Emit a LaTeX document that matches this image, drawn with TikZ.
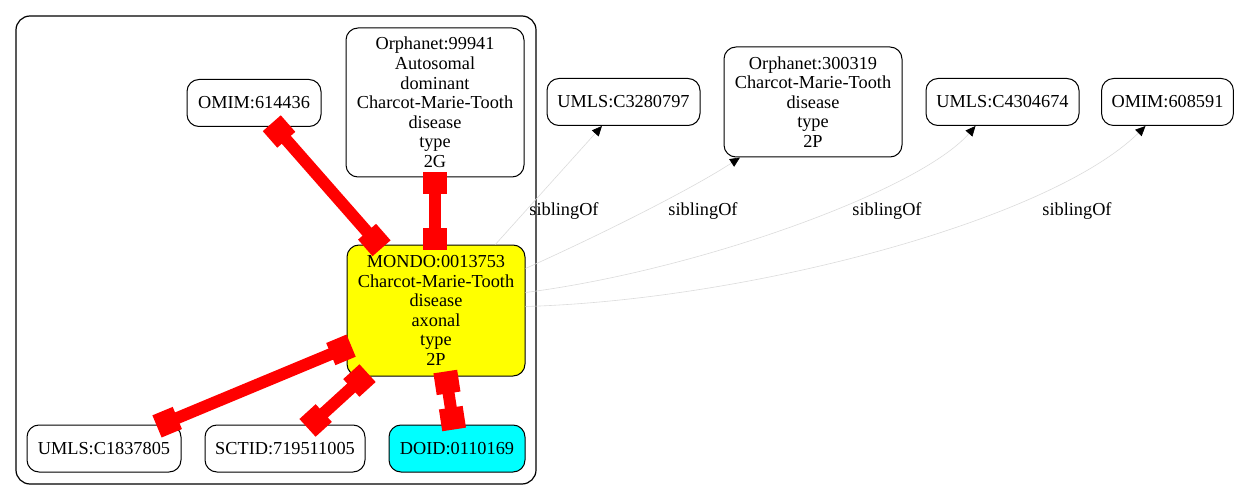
\documentclass[tikz,border=0pt]{standalone}
\usepackage{fontspec}
\setmainfont{Liberation Serif}
\usetikzlibrary{arrows.meta,positioning}
\definecolor{focusyellow}{RGB}{255,255,0}
\definecolor{matchcyan}{RGB}{0,255,255}
\definecolor{xrefred}{RGB}{255,0,0}

\begin{document}
\begin{tikzpicture}
    [x=1pt,y=-1pt,font=\fontsize{18.3}{19.6}\selectfont,
    term/.style={draw,line width=1pt,rounded corners=12pt,align=center,fill=white,
      inner xsep=10pt,inner ysep=5pt,minimum height=47pt},
    focus/.style={term,fill=focusyellow},
    match/.style={term,fill=matchcyan},
    group/.style={draw,line width=1.2pt,rounded corners=14pt,minimum width=520pt,minimum height=468pt},
    xref/.style={xrefred,line width=12pt,shorten <=-5pt,shorten >=-5pt,
      {Square[length=22pt,width=24pt]}-{Square[length=22pt,width=24pt]}},
    sibling/.style={draw=black!14,line width=0.6pt,-{Triangle[color=black,length=10pt,width=9pt]}},
    lbl/.style={inner sep=0pt}]

    \useasboundingbox (0,0) rectangle (1243,500);

    % cluster round the MONDO term and its mappings
    \node[group] (cluster) at (276,250) {};

    \node[focus,minimum width=178pt,minimum height=131pt] (mondo) at (436,310.5)
    {MONDO:0013753\\Charcot-Marie-Tooth\\disease\\axonal\\type\\2P};
    \node[term,minimum width=134pt] (omim614436) at (254,103) {OMIM:614436};
    \node[term,minimum width=178pt,minimum height=149pt] (orph99941) at (435,102.5)
    {Orphanet:99941\\Autosomal\\dominant\\Charcot-Marie-Tooth\\disease\\type\\2G};
    \node[term,minimum width=154pt] (umls1837805) at (104,448.5) {UMLS:C1837805};
    \node[term,minimum width=160pt] (sctid) at (285,448.5) {SCTID:719511005};
    \node[match,minimum width=136pt] (doid) at (457,448.5) {DOID:0110169};

    % siblings outside the cluster
    \node[term,minimum width=153pt] (umls3280797) at (623.5,102) {UMLS:C3280797};
    \node[term,minimum width=178pt,minimum height=110pt] (orph300319) at (813,102)
    {Orphanet:300319\\Charcot-Marie-Tooth\\disease\\type\\2P};
    \node[term,minimum width=153pt] (umls4304674) at (1002.5,102) {UMLS:C4304674};
    \node[term,minimum width=129pt] (omim608591) at (1167.5,102) {OMIM:608591};

    \draw[xref] (omim614436) -- (mondo);
    \draw[xref] (orph99941.south) -- (mondo.north -| orph99941.south);
    \draw[xref] (mondo) -- (umls1837805);
    \draw[xref] (mondo) -- (sctid);
    \draw[xref] (mondo) -- (doid);

    \draw[sibling] (mondo) -- (umls3280797);
    \draw[sibling] ([yshift=42pt]mondo.east) .. controls (600,235) and (690,190) .. ([xshift=-73pt]orph300319.south);
    \draw[sibling] ([yshift=18pt]mondo.east) .. controls (700,270) and (920,190) .. ([xshift=-27pt]umls4304674.south);
    \draw[sibling] ([yshift=4pt]mondo.east) .. controls (750,300) and (1050,220) .. ([xshift=-22pt]omim608591.south);

    \node[lbl] (l1) at (564,211) {siblingOf};
    \node[lbl] (l2) at (703,211) {siblingOf};
    \node[lbl] (l3) at (887,211) {siblingOf};
    \node[lbl] (l4) at (1077,211) {siblingOf};
\end{tikzpicture}
\end{document}
